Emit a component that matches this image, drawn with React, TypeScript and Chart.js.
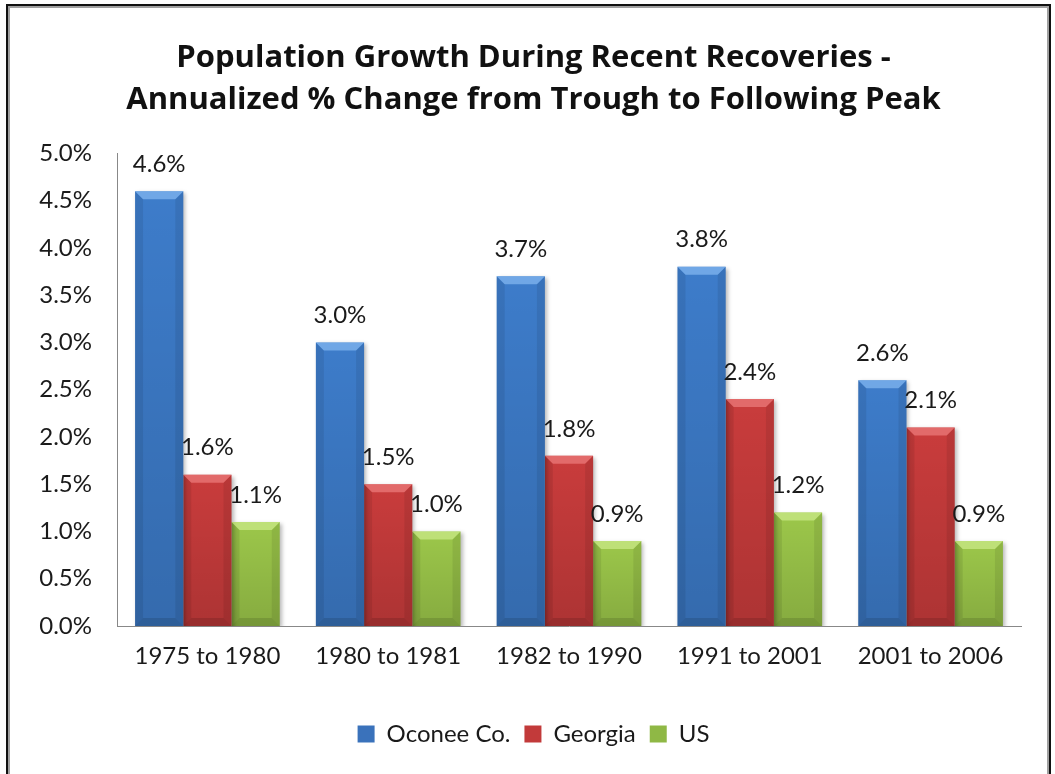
import React, { useEffect, useRef } from "react";
import { Chart, registerables } from "chart.js";

Chart.register(...registerables);

const categories = ["1975 to 1980", "1980 to 1981", "1982 to 1990", "1991 to 2001", "2001 to 2006"];
const oconee = [4.6, 3.0, 3.7, 3.8, 2.6];
const georgia = [1.6, 1.5, 1.8, 2.4, 2.1];
const us = [1.1, 1.0, 0.9, 1.2, 0.9];
const seriesNames = ["Oconee Co.", "Georgia", "US"];
const titleLines = ["Population Growth During Recent Recoveries -", "Annualized % Change from Trough to Following Peak"];

const baseColors = ["#3d7cca", "#c93c3c", "#9cc74a"];
const bevelColors = ["rgba(140,190,245,0.65)", "rgba(240,130,130,0.65)", "rgba(205,235,140,0.7)"];
const legendColors = ["#3a72bb", "#c23a3a", "#8fb845"];

const FONT = "Lato, 'Noto Sans', sans-serif";
const TITLE_FONT = "'Open Sans', Lato, sans-serif";

const frame = {
  id: "frame",
  afterLayout(chart: any) {
    const shift = 23;
    if (chart.legend) {
      chart.legend.left += shift;
      chart.legend.right += shift;
    }
    if (chart.titleBlock) {
      chart.titleBlock.left += shift;
      chart.titleBlock.right += shift;
    }
  },
  beforeDraw(chart: any) {
    const c = chart.ctx;
    c.save();
    c.fillStyle = "#ffffff";
    c.fillRect(0, 0, chart.width, chart.height);
    c.strokeStyle = "#111111";
    c.lineWidth = 2;
    c.strokeRect(7, 5, 1043, chart.height + 20);
    c.strokeStyle = "#a0a0a0";
    c.lineWidth = 2;
    c.strokeRect(9, 7, 1039, chart.height + 20);
    c.restore();
  },
};

const barShadow = {
  id: "barShadow",
  beforeDatasetsDraw(chart: any) {
    const c = chart.ctx;
    c.save();
    c.shadowColor = "rgba(0,0,0,0.28)";
    c.shadowBlur = 4;
    c.shadowOffsetX = 2;
    c.shadowOffsetY = 2;
  },
  afterDatasetsDraw(chart: any) {
    const c = chart.ctx;
    c.restore();
    chart.data.datasets.forEach((ds: any, di: number) => {
      const meta = chart.getDatasetMeta(di);
      meta.data.forEach((bar: any, i: number) => {
        const { x, y, base, width } = bar.getProps(["x", "y", "base", "width"], true);
        const l = x - width / 2;
        const r = x + width / 2;
        const h = base - y;
        const b = Math.min(8, h / 2);
        c.save();
        const g = c.createLinearGradient(0, y, 0, base);
        g.addColorStop(0, "rgba(0,0,0,0)");
        g.addColorStop(1, "rgba(0,0,0,0.14)");
        c.fillStyle = g;
        c.fillRect(l, y, width, h);
        c.fillStyle = "rgba(0,0,0,0.08)";
        c.beginPath();
        c.moveTo(l, y);
        c.lineTo(l + b, y + b);
        c.lineTo(l + b, base - b);
        c.lineTo(l, base);
        c.closePath();
        c.fill();
        c.beginPath();
        c.moveTo(r, y);
        c.lineTo(r - b, y + b);
        c.lineTo(r - b, base - b);
        c.lineTo(r, base);
        c.closePath();
        c.fill();
        c.fillStyle = "rgba(0,0,0,0.12)";
        c.beginPath();
        c.moveTo(l, base);
        c.lineTo(l + b, base - b);
        c.lineTo(r - b, base - b);
        c.lineTo(r, base);
        c.closePath();
        c.fill();
        c.fillStyle = bevelColors[di];
        c.beginPath();
        c.moveTo(l, y);
        c.lineTo(r, y);
        c.lineTo(r - b, y + b);
        c.lineTo(l + b, y + b);
        c.closePath();
        c.fill();
        c.fillStyle = "#1a1a1a";
        c.font = `24px ${FONT}`;
        c.textAlign = "center";
        c.textBaseline = "middle";
        c.fillText(ds.data[i].toFixed(1) + "%", x, y - 27);
        c.restore();
      });
    });
  },
};

export default function App() {
  const ref = useRef<HTMLCanvasElement | null>(null);
  useEffect(() => {
    if (!ref.current) return;
    const chart = new Chart(ref.current, {
      type: "bar",
      data: {
        labels: categories,
        datasets: [
          { label: seriesNames[0], data: oconee, backgroundColor: baseColors[0] },
          { label: seriesNames[1], data: georgia, backgroundColor: baseColors[1] },
          { label: seriesNames[2], data: us, backgroundColor: baseColors[2] },
        ],
      },
      options: {
        responsive: false,
        animation: false,
        devicePixelRatio: 1,
        layout: { padding: { top: 37, left: 0, right: 34, bottom: 18 } },
        datasets: { bar: { categoryPercentage: 0.8, barPercentage: 1.0 } },
        scales: {
          x: {
            grid: { display: false, drawTicks: false },
            border: { display: true, color: "#888888", width: 1 },
            ticks: { color: "#1a1a1a", font: { family: FONT, size: 24 }, padding: 16, maxRotation: 0 },
            afterFit(scale: any) {
              scale.height = 82;
            },
          },
          y: {
            min: 0,
            max: 5,
            grid: { display: false, drawTicks: false },
            border: { display: true, color: "#888888", width: 1 },
            ticks: {
              stepSize: 0.5,
              color: "#1a1a1a",
              font: { family: FONT, size: 24 },
              padding: 25,
              callback: (v: any) => Number(v).toFixed(1) + "%",
            },
            afterFit(scale: any) {
              scale.width = 117;
            },
          },
        },
        plugins: {
          tooltip: { enabled: false },
          title: {
            display: true,
            text: titleLines,
            color: "#111111",
            font: { family: TITLE_FONT, size: 31, weight: "bold", lineHeight: 1.36 },
            padding: { top: 0, bottom: 32 },
          },
          legend: {
            position: "bottom",
            labels: {
              color: "#1a1a1a",
              font: { family: FONT, size: 24 },
              boxWidth: 17,
              boxHeight: 17,
              padding: 14,
              generateLabels: (ch: any) =>
                ch.data.datasets.map((ds: any, i: number) => ({
                  text: ds.label,
                  fillStyle: legendColors[i],
                  strokeStyle: legendColors[i],
                  lineWidth: 0,
                  hidden: false,
                  datasetIndex: i,
                  fontColor: "#1a1a1a",
                })),
            },
          },
        },
      },
      plugins: [frame, barShadow],
    });
    return () => chart.destroy();
  }, []);
  return (
    <div style={{ position: "absolute", left: 0, top: 0, width: 1055, height: 774 }}>
      <canvas ref={ref} width={1055} height={774} style={{ width: 1055, height: 774, display: "block" }} />
    </div>
  );
}
